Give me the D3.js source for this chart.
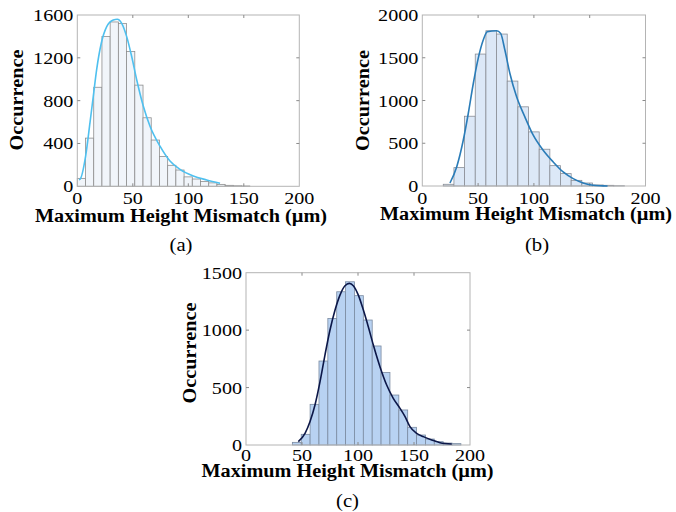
<!DOCTYPE html>
<html>
<head>
<meta charset="utf-8">
<script src="https://cdn.jsdelivr.net/npm/d3@7"></script>
<style>
  body { margin: 0; background: #fff; }
  svg { display: block; }
</style>
</head>
<body>
<div id="chart"></div>
<script>
// figure size
var svgWidth = 676;
var svgHeight = 512;

// shared x axis ticks
var xTicks = [0, 50, 100, 150, 200];

// panel (a)
var binStartA = 0;
var binWidthA = 7.4;
var countsA = [74, 450, 925, 1400, 1535, 1520, 1260, 945, 640, 432, 278, 196, 152, 88, 68, 45, 32, 18, 9, 5, 3];
var curveAx = [1.5, 2.4, 7.5, 11.4, 14.4, 17.4, 21.6, 26.5, 32.4, 36, 40, 44.5, 49, 53.5, 59.5, 65.5, 74.5, 83.5, 92.5, 104.5, 116.6, 128.6];
var curveAy = [62, 65, 282, 592, 840, 1088, 1336, 1491, 1553, 1560, 1522, 1398, 1212, 995, 747, 561, 375, 236, 158, 96, 59, 28];
var yTicksA = [0, 400, 800, 1200, 1600];

// panel (b)
var binStartB = 18.8;
var binWidthB = 9.55;
var countsB = [20, 215, 816, 1543, 1816, 1777, 1227, 926, 633, 430, 238, 145, 66, 35, 12, 8, 3];
var curveBx = [24.8, 30.8, 36.7, 41.2, 45.7, 50.1, 54.6, 58.2, 66.6, 70.2, 74, 78.5, 84.5, 91.9, 99.4, 108.3, 117.3, 126.2, 135.2, 144.1, 153.1, 162, 166];
var curveBy = [35, 223, 535, 848, 1199, 1492, 1707, 1805, 1816, 1785, 1590, 1316, 1043, 809, 594, 418, 281, 164, 86, 35, 8, 2, 0];
var yTicksB = [0, 500, 1000, 1500, 2000];

// panel (c)
var binStartC = 41.4;
var binWidthC = 7.92;
var countsC = [23, 93, 354, 731, 1102, 1334, 1421, 1300, 1088, 862, 632, 435, 305, 154, 87, 52, 29, 17, 12];
var curveCx = [46.7, 52.7, 57.1, 61.6, 66.1, 70.5, 75, 79.5, 83.9, 88.4, 92.3, 95.8, 100.3, 104.8, 109.2, 113.7, 119.6, 125.6, 131.5, 137.5, 142, 146.4, 152.4, 158.3, 165.8, 173.2, 183.7];
var curveCy = [29, 102, 203, 348, 551, 783, 1001, 1175, 1305, 1387, 1407, 1387, 1305, 1175, 1030, 870, 682, 522, 406, 319, 247, 160, 102, 73, 44, 20, 9];
var yTicksC = [0, 500, 1000, 1500];

var serif = "'Liberation Serif', 'Times New Roman', serif";
var stretch = 1.15;

var svg = d3.select("#chart").append("svg")
    .attr("width", svgWidth)
    .attr("height", svgHeight);

// text helper: fonts in the figure look a bit wider than normal
function label(x, y, str, size, anchor, weight) {
  return svg.append("text")
      .attr("transform", `translate(${x},${y}) scale(${stretch},1)`)
      .attr("text-anchor", anchor)
      .style("font-family", serif)
      .style("font-size", size + "px")
      .style("font-weight", weight || "normal")
      .attr("fill", "#000")
      .text(str);
}

function drawPanel(p) {
  var x = d3.scaleLinear().domain([0, 200]).range([p.left, p.right]);
  var y = d3.scaleLinear().domain([0, p.yMax]).range([p.bottom, p.top]);

  var bins = p.counts.map(function(c, i) {
    return { x0: p.binStart + i * p.binWidth, x1: p.binStart + (i + 1) * p.binWidth, n: c };
  });

  // bars
  svg.append("g").selectAll("rect")
    .data(bins)
    .enter()
    .append("rect")
    .attr("x", d => x(d.x0))
    .attr("y", d => y(d.n))
    .attr("width", d => x(d.x1) - x(d.x0))
    .attr("height", d => y(0) - y(d.n))
    .attr("fill", p.fill)
    .attr("stroke", p.edge)
    .attr("stroke-width", 0.8);

  // box
  svg.append("rect")
    .attr("x", p.left)
    .attr("y", p.top)
    .attr("width", p.right - p.left)
    .attr("height", p.bottom - p.top)
    .attr("fill", "none")
    .attr("stroke", "#b4b4b4")
    .attr("stroke-width", 1);

  // inward ticks on all sides
  var tk = svg.append("g").attr("stroke", "#8a8a8a").attr("stroke-width", 1);
  xTicks.slice(1, -1).forEach(function(t) {
    tk.append("line").attr("x1", x(t)).attr("x2", x(t)).attr("y1", p.bottom).attr("y2", p.bottom - 3);
    tk.append("line").attr("x1", x(t)).attr("x2", x(t)).attr("y1", p.top).attr("y2", p.top + 3);
  });
  p.yTicks.slice(1, -1).forEach(function(t) {
    tk.append("line").attr("x1", p.left).attr("x2", p.left + 3).attr("y1", y(t)).attr("y2", y(t));
    tk.append("line").attr("x1", p.right).attr("x2", p.right - 3).attr("y1", y(t)).attr("y2", y(t));
  });

  // fitted curve
  var pts = p.cx.map((v, i) => [v, p.cy[i]]);
  var line = d3.line()
    .x(d => x(d[0]))
    .y(d => y(d[1]))
    .curve(d3.curveMonotoneX);
  svg.append("path")
    .datum(pts)
    .attr("d", line)
    .attr("fill", "none")
    .attr("stroke", p.lineColor)
    .attr("stroke-width", 1.6);

  // tick labels
  xTicks.forEach(function(t) {
    label(x(t), p.bottom + p.xTickGap, t, 17.5, "middle");
  });
  p.yTicks.forEach(function(t) {
    label(p.left - 4, y(t) + 6, t, 17.5, "end");
  });

  // axis titles
  svg.append("text")
    .attr("x", p.xLabelX)
    .attr("y", p.xLabelY)
    .attr("text-anchor", "middle")
    .attr("textLength", 292)
    .attr("lengthAdjust", "spacingAndGlyphs")
    .style("font-family", serif)
    .style("font-size", "18px")
    .style("font-weight", "bold")
    .text("Maximum Height Mismatch (\u00b5m)");

  svg.append("text")
    .attr("transform", `translate(${p.yLabelX},${p.yLabelY}) rotate(-90)`)
    .attr("text-anchor", "middle")
    .attr("textLength", 101)
    .attr("lengthAdjust", "spacingAndGlyphs")
    .style("font-family", serif)
    .style("font-size", "19px")
    .style("font-weight", "bold")
    .text("Occurrence");

  label(p.tagX, p.tagY, p.tag, 18, "middle");
}

drawPanel({
  left: 77.3, right: 299.3, top: 15, bottom: 186.3, yMax: 1600, yTicks: yTicksA,
  counts: countsA, binStart: binStartA, binWidth: binWidthA, cx: curveAx, cy: curveAy,
  fill: "#f1f5fa", edge: "#8e8e8e", lineColor: "#4fc0ef", xTickGap: 17.5,
  xLabelX: 181, xLabelY: 221.5, yLabelX: 23, yLabelY: 100, tag: "(a)", tagX: 181, tagY: 251
});

drawPanel({
  left: 422.3, right: 645.5, top: 15, bottom: 186, yMax: 2000, yTicks: yTicksB,
  counts: countsB, binStart: binStartB, binWidth: binWidthB, cx: curveBx, cy: curveBy,
  fill: "#dce8f7", edge: "#8a8e96", lineColor: "#2a7cb8", xTickGap: 17.5,
  xLabelX: 526, xLabelY: 220, yLabelX: 369, yLabelY: 100.5, tag: "(b)", tagX: 537, tagY: 251
});

drawPanel({
  left: 246, right: 470, top: 272.7, bottom: 445, yMax: 1500, yTicks: yTicksC,
  counts: countsC, binStart: binStartC, binWidth: binWidthC, cx: curveCx, cy: curveCy,
  fill: "#b8d2f2", edge: "#7b8ba1", lineColor: "#0c1748", xTickGap: 16,
  xLabelX: 347.5, xLabelY: 477, yLabelX: 196, yLabelY: 353, tag: "(c)", tagX: 347.5, tagY: 507
});
</script>
</body>
</html>
